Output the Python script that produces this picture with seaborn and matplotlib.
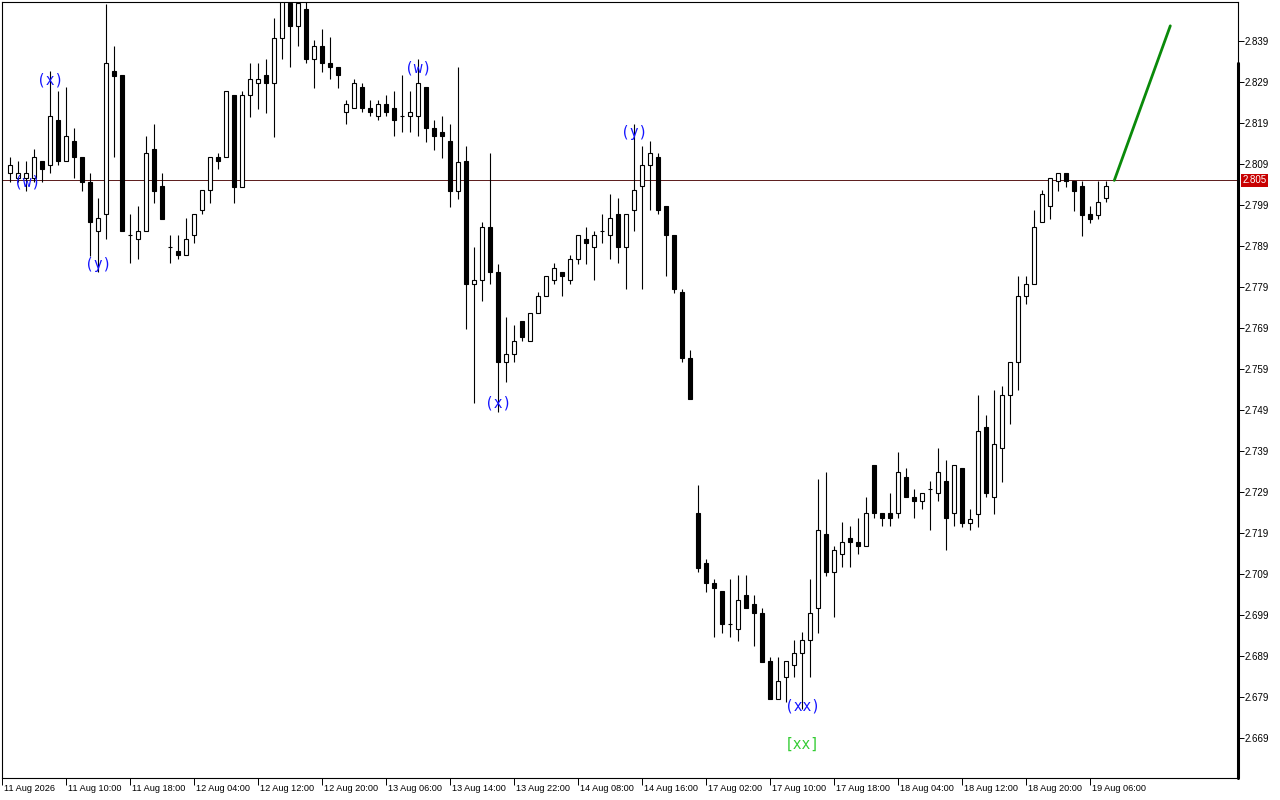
import numpy as np
import pandas as pd
import matplotlib
matplotlib.use("Agg")
import matplotlib.pyplot as plt
from matplotlib.lines import Line2D
import seaborn as sns

# H1 candles (bar index 0 = leftmost bar)
opens = [2.8067, 2.8057, 2.8057, 2.8057, 2.8097, 2.8087, 2.8197, 2.8097, 2.8145, 2.8106,
         2.8047, 2.7926, 2.7967, 2.8317, 2.8306, 2.7916, 2.7906, 2.7926, 2.8126, 2.8036,
         2.7887, 2.7877, 2.7867, 2.7916, 2.7977, 2.8026, 2.8106, 2.8106, 2.8258, 2.8035,
         2.8258, 2.8287, 2.8306, 2.8287, 2.8397, 2.8483, 2.8426, 2.8467, 2.8345, 2.8378,
         2.8336, 2.8326, 2.8216, 2.8226, 2.8277, 2.8226, 2.8206, 2.8236, 2.8226, 2.8206,
         2.8206, 2.8206, 2.8277, 2.8177, 2.8167, 2.8145, 2.8025, 2.8097, 2.7797, 2.7806,
         2.7936, 2.7826, 2.7606, 2.7626, 2.7706, 2.7658, 2.7726, 2.7767, 2.7806, 2.7826,
         2.7806, 2.7858, 2.7906, 2.7887, 2.7926, 2.7916, 2.7967, 2.7887, 2.7977, 2.8036,
         2.8087, 2.8106, 2.7987, 2.7916, 2.7777, 2.7616, 2.7238, 2.7116, 2.7067, 2.7048,
         2.6967, 2.6957, 2.7038, 2.7016, 2.6996, 2.6877, 2.6786, 2.6838, 2.6868, 2.6897,
         2.6929, 2.7006, 2.7187, 2.7096, 2.7138, 2.7177, 2.7167, 2.7158, 2.7357, 2.7238,
         2.7238, 2.7238, 2.7326, 2.7277, 2.7267, 2.7297, 2.7287, 2.7316, 2.7238, 2.7348,
         2.7215, 2.7237, 2.7448, 2.7277, 2.7397, 2.7526, 2.7606, 2.7767, 2.7797, 2.7948,
         2.7987, 2.8048, 2.8067, 2.8048, 2.8036, 2.7968, 2.7966, 2.8006]
highs = [2.8107, 2.8097, 2.8097, 2.8127, 2.8097, 2.8317, 2.8268, 2.8278, 2.8178, 2.8106,
         2.8067, 2.8007, 2.8480, 2.8378, 2.8306, 2.7967, 2.7988, 2.8158, 2.8188, 2.8067,
         2.7916, 2.7916, 2.7958, 2.7967, 2.8026, 2.8106, 2.8116, 2.8267, 2.8258, 2.8267,
         2.8336, 2.8336, 2.8345, 2.8445, 2.8490, 2.8490, 2.8490, 2.8490, 2.8392, 2.8420,
         2.8400, 2.8326, 2.8245, 2.8297, 2.8287, 2.8245, 2.8245, 2.8258, 2.8267, 2.8306,
         2.8267, 2.8345, 2.8277, 2.8197, 2.8206, 2.8187, 2.8326, 2.8135, 2.7888, 2.7948,
         2.8116, 2.7846, 2.7717, 2.7698, 2.7706, 2.7726, 2.7777, 2.7816, 2.7849, 2.7826,
         2.7867, 2.7916, 2.7936, 2.7926, 2.7967, 2.8016, 2.8006, 2.7967, 2.8188, 2.8135,
         2.8145, 2.8116, 2.7987, 2.7916, 2.7786, 2.7636, 2.7307, 2.7126, 2.7077, 2.7048,
         2.7077, 2.7087, 2.7087, 2.7038, 2.7006, 2.6887, 2.6887, 2.6877, 2.6929, 2.6948,
         2.7077, 2.7322, 2.7339, 2.7158, 2.7216, 2.7206, 2.7226, 2.7277, 2.7357, 2.7238,
         2.7287, 2.7387, 2.7348, 2.7297, 2.7287, 2.7316, 2.7397, 2.7367, 2.7357, 2.7348,
         2.7249, 2.7526, 2.7477, 2.7539, 2.7548, 2.7606, 2.7817, 2.7817, 2.7978, 2.8027,
         2.8057, 2.8067, 2.8067, 2.8048, 2.8048, 2.7987, 2.8048, 2.8048]
lows = [2.8047, 2.8047, 2.8025, 2.8047, 2.8047, 2.8067, 2.8087, 2.8097, 2.8057, 2.8025,
        2.7866, 2.7827, 2.7906, 2.8106, 2.7926, 2.7848, 2.7858, 2.7926, 2.7996, 2.7957,
        2.7848, 2.7858, 2.7867, 2.7897, 2.7967, 2.7996, 2.8077, 2.8106, 2.7996, 2.8035,
        2.8205, 2.8225, 2.8215, 2.8157, 2.8345, 2.8326, 2.8377, 2.8336, 2.8276, 2.8315,
        2.8297, 2.8276, 2.8187, 2.8226, 2.8216, 2.8206, 2.8197, 2.8206, 2.8158, 2.8167,
        2.8167, 2.8158, 2.8144, 2.8125, 2.8105, 2.7986, 2.8005, 2.7687, 2.7506, 2.7757,
        2.7797, 2.7486, 2.7558, 2.7606, 2.7658, 2.7658, 2.7726, 2.7767, 2.7797, 2.7767,
        2.7797, 2.7846, 2.7846, 2.7806, 2.7897, 2.7858, 2.7848, 2.7786, 2.7926, 2.7786,
        2.7977, 2.7967, 2.7816, 2.7776, 2.7606, 2.7516, 2.7096, 2.7047, 2.6937, 2.6947,
        2.6937, 2.6927, 2.7006, 2.6915, 2.6876, 2.6786, 2.6786, 2.6777, 2.6838, 2.6760,
        2.6838, 2.6947, 2.7086, 2.6986, 2.7106, 2.7106, 2.7138, 2.7158, 2.7226, 2.7206,
        2.7206, 2.7226, 2.7277, 2.7226, 2.7248, 2.7197, 2.7267, 2.7148, 2.7206, 2.7205,
        2.7197, 2.7205, 2.7277, 2.7237, 2.7315, 2.7457, 2.7538, 2.7748, 2.7797, 2.7948,
        2.7957, 2.8025, 2.8035, 2.7976, 2.7915, 2.7947, 2.7957, 2.7997]
closes = [2.8087, 2.8067, 2.8067, 2.8106, 2.8077, 2.8206, 2.8097, 2.8158, 2.8106, 2.8047,
          2.7948, 2.7958, 2.8336, 2.8305, 2.7926, 2.7916, 2.7926, 2.8116, 2.8025, 2.7957,
          2.7887, 2.7867, 2.7906, 2.7967, 2.8026, 2.8106, 2.8097, 2.8267, 2.8035, 2.8258,
          2.8297, 2.8297, 2.8287, 2.8397, 2.8484, 2.8426, 2.8483, 2.8345, 2.8378, 2.8336,
          2.8326, 2.8306, 2.8236, 2.8287, 2.8226, 2.8216, 2.8236, 2.8216, 2.8197, 2.8206,
          2.8216, 2.8287, 2.8177, 2.8158, 2.8158, 2.8025, 2.8096, 2.7797, 2.7806, 2.7936,
          2.7826, 2.7606, 2.7626, 2.7658, 2.7667, 2.7726, 2.7767, 2.7816, 2.7836, 2.7816,
          2.7858, 2.7916, 2.7897, 2.7916, 2.7926, 2.7958, 2.7887, 2.7967, 2.8026, 2.8087,
          2.8116, 2.7977, 2.7916, 2.7786, 2.7616, 2.7516, 2.7105, 2.7067, 2.7057, 2.6967,
          2.6967, 2.7026, 2.7006, 2.6996, 2.6876, 2.6786, 2.6828, 2.6877, 2.6897, 2.6929,
          2.6996, 2.7197, 2.7096, 2.7148, 2.7167, 2.7167, 2.7158, 2.7238, 2.7238, 2.7226,
          2.7226, 2.7338, 2.7277, 2.7267, 2.7287, 2.7297, 2.7338, 2.7226, 2.7357, 2.7215,
          2.7225, 2.7438, 2.7287, 2.7406, 2.7526, 2.7606, 2.7767, 2.7797, 2.7936, 2.8016,
          2.8057, 2.8067, 2.8048, 2.8025, 2.7966, 2.7957, 2.7997, 2.8036]

current_price = 2.805

# projected move (green line)
forecast_x = [138, 145]
forecast_y = [2.805, 2.8427]

# wave labels: (bar index, price, text)
wave_labels = [(2.1, 2.8046, "(w)"), (5, 2.8295, "(x)"), (11, 2.7846, "(y)"),
               (51, 2.8324, "(w)"), (61, 2.7507, "(x)"), (78, 2.8166, "(y)"),
               (99, 2.6768, "(xx)")]
degree_label = (99, 2.6675, "[xx]")

price_ticks = [2.669, 2.679, 2.689, 2.699, 2.709, 2.719, 2.729, 2.739, 2.749,
               2.759, 2.769, 2.779, 2.789, 2.799, 2.809, 2.819, 2.829, 2.839]
time_tick_idx = [-1, 7, 15, 23, 31, 39, 47, 55, 63, 71, 79, 87, 95, 103, 111, 119, 127, 135]
time_labels = ["11 Aug 2026", "11 Aug 10:00", "11 Aug 18:00", "12 Aug 04:00", "12 Aug 12:00",
               "12 Aug 20:00", "13 Aug 06:00", "13 Aug 14:00", "13 Aug 22:00", "14 Aug 08:00",
               "14 Aug 16:00", "17 Aug 02:00", "17 Aug 10:00", "17 Aug 18:00", "18 Aug 04:00",
               "18 Aug 12:00", "18 Aug 20:00", "19 Aug 06:00"]

df = pd.DataFrame({"open": opens, "high": highs, "low": lows, "close": closes})
df["idx"] = np.arange(len(df))
df["bull"] = df["close"] >= df["open"]

sns.set_theme(style="white")
plt.rcParams["font.family"] = ["Liberation Sans", "DejaVu Sans"]

fig = plt.figure(figsize=(12.8, 8), dpi=100)
ax = fig.add_axes([2 / 1280, 22 / 800, 1236 / 1280, 776 / 800])
ax.set_facecolor("white")

# wicks
ax.vlines(df["idx"], df["low"], df["high"], color="black", lw=0.8, zorder=2)

# bodies
body_w = 0.5
bottoms = np.minimum(df["open"], df["close"])
heights = (df["close"] - df["open"]).abs()
faces = np.where(df["bull"], "white", "black")
ax.bar(df["idx"], heights, width=body_w, bottom=bottoms, color=faces,
       edgecolor="black", linewidth=0.8, zorder=3)

# current price line
ax.axhline(current_price, color="#5a1a1a", lw=0.7, zorder=1)

# forecast line
sns.lineplot(x=forecast_x, y=forecast_y, ax=ax, color="#0a8a0a", lw=2.0, zorder=4)

for xi, yi, txt in wave_labels:
    ax.text(xi, yi, txt, color="#1414ff", fontsize=10.5, family="DejaVu Sans Mono",
            ha="center", va="center", zorder=5)
ax.text(degree_label[0], degree_label[1], degree_label[2], color="#33cc33", fontsize=10.5,
        family="DejaVu Sans Mono", ha="center", va="center", zorder=5)

ax.set_xlim(-1.0375, 153.4625)
ax.set_ylim(2.65924, 2.84851)

for sp in ax.spines.values():
    sp.set_color("black")
    sp.set_linewidth(0.8)

ax.yaxis.tick_right()
ax.set_yticks(price_ticks)
ax.set_yticklabels([f"{p:.3f}" for p in price_ticks])
ax.tick_params(axis="y", direction="out", length=4, width=0.7, labelsize=7, pad=1,
               colors="black", right=True, left=False)

ax.set_xticks(time_tick_idx)
ax.set_xticklabels([])
ax.tick_params(axis="x", direction="out", length=5, width=0.7, bottom=True, colors="black")
for xi, lbl in zip(time_tick_idx, time_labels):
    ax.annotate(lbl, xy=(xi, 0), xycoords=("data", "axes fraction"), xytext=(1.5, -4.5),
                textcoords="offset points", ha="left", va="top", fontsize=6.6, color="black")

# current price tag on the axis
ax.annotate(f"{current_price:.3f}", xy=(1, current_price), xycoords=("axes fraction", "data"),
            xytext=(3, 0), textcoords="offset points", ha="left", va="center", fontsize=7,
            color="white", bbox=dict(boxstyle="square,pad=0.15", fc="#c80000", ec="none"))

ax.grid(False)

# thick bar along the price scale
fig.add_artist(Line2D([1238 / 1280, 1238 / 1280], [22 / 800, 737 / 800],
                      color="black", lw=2.2, transform=fig.transFigure))

fig.savefig("out.png", dpi=100, facecolor="white")
